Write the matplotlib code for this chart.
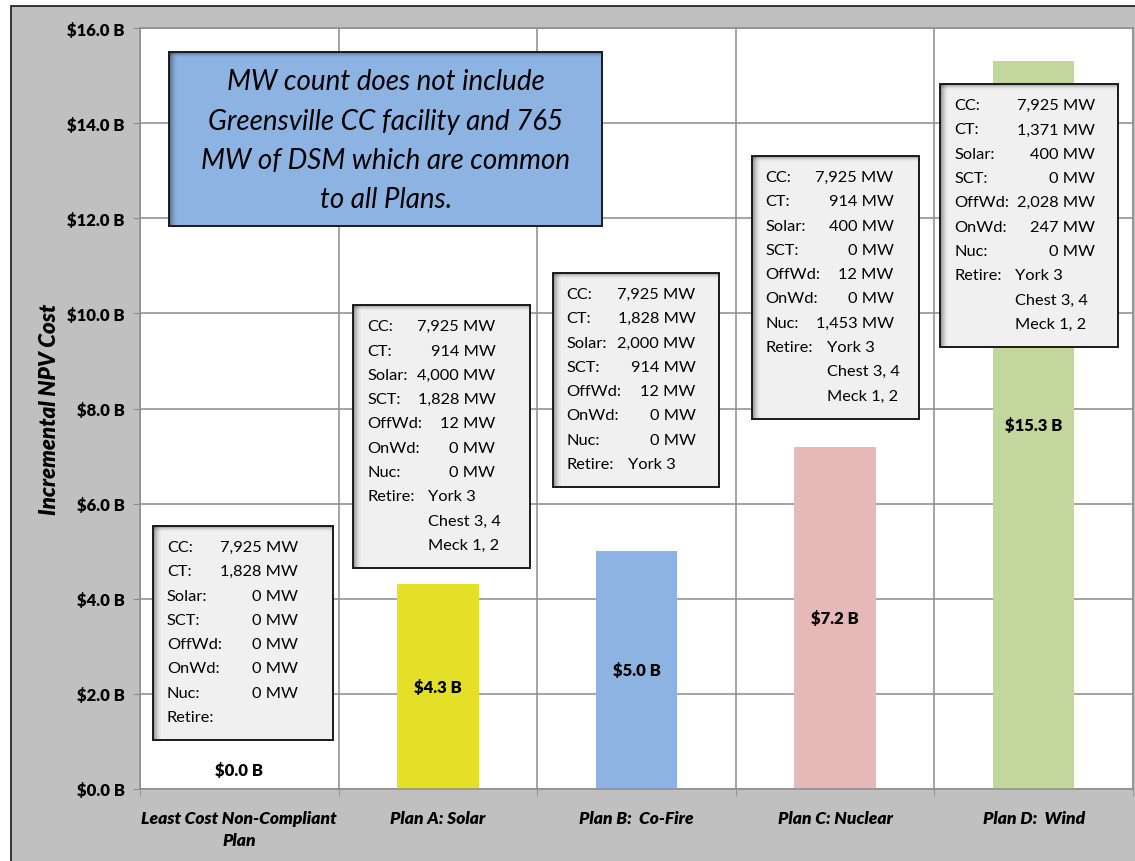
import matplotlib
matplotlib.use("Agg")
import matplotlib.pyplot as plt
from matplotlib.patches import Rectangle
from matplotlib.transforms import IdentityTransform

plt.rcParams['font.family'] = ['Lato', 'DejaVu Sans']

# --- data -------------------------------------------------------------
plans = ["Least Cost Non-Compliant\nPlan", "Plan A: Solar", "Plan B:  Co-Fire",
         "Plan C: Nuclear", "Plan D:  Wind"]
npv_cost = [0.0, 4.3, 5.0, 7.2, 15.3]          # $ billions
y_ticks = [0, 2, 4, 6, 8, 10, 12, 14, 16]

resources = ["CC:", "CT:", "Solar:", "SCT:", "OffWd:", "OnWd:", "Nuc:"]
mw_lcnc = ["7,925", "1,828", "0", "0", "0", "0", "0"]
mw_plan_a = ["7,925", "914", "4,000", "1,828", "12", "0", "0"]
mw_plan_b = ["7,925", "1,828", "2,000", "914", "12", "0", "0"]
mw_plan_c = ["7,925", "914", "400", "0", "12", "0", "1,453"]
mw_plan_d = ["7,925", "1,371", "400", "0", "2,028", "247", "0"]
retire_lcnc = []
retire_plan_a = ["York 3", "Chest 3, 4", "Meck 1, 2"]
retire_plan_b = ["York 3"]
retire_plan_c = ["York 3", "Chest 3, 4", "Meck 1, 2"]
retire_plan_d = ["York 3", "Chest 3, 4", "Meck 1, 2"]

note = ["MW count does not include", "Greensville CC facility and 765",
        "MW of DSM which are common", "to all Plans."]

# --- styling / layout -------------------------------------------------
bar_colors = ["#ffffff", "#e4e02a", "#8db3e2", "#e6b9b8", "#c3d69b"]
W, H = 1135, 862
# info box anchors: (left in category units, top in $B, width px, value right px)
box_layout = [(-0.435, 5.53, 180, 145),
              (0.575, 10.17, 177, 142),
              (1.578, 10.85, 166, 143),
              (2.580, 13.31, 167, 142),
              (3.530, 14.82, 178, 155)]
BOLD = "heavy"

fig = plt.figure(figsize=(W / 100, H / 100), dpi=100, facecolor="white")
fig.add_artist(Rectangle((11 / W, -0.5), 2, 0.5 + 1 - 7 / H, transform=fig.transFigure,
                         facecolor="#c0c0c0", edgecolor="#262626", lw=1.3, zorder=0))

ax = fig.add_axes([140 / W, 72 / H, 993 / W, 761 / H])
ax.set_facecolor("white")
x = list(range(len(plans)))
ax.bar(x, npv_cost, width=0.41, color=bar_colors, zorder=2)
ax.set_xlim(-0.5, 4.5)
ax.set_ylim(0, 16)

ax.set_yticks(y_ticks)
ax.set_yticklabels([f"\\${t:.1f} B" for t in y_ticks], fontsize=12, fontweight=BOLD)
ax.set_xticks(x)
ax.set_xticklabels(plans, fontsize=12.5, fontweight=BOLD, style="italic", linespacing=1.45)
ax.set_xticks([i - 0.5 for i in range(len(plans) + 1)], minor=True)
ax.tick_params(axis="x", which="major", length=0, pad=15)
ax.tick_params(axis="x", which="minor", length=5, color="#8c8c8c")
ax.tick_params(axis="y", length=5, color="#8c8c8c", pad=6)
ax.grid(axis="y", which="major", color="#8c8c8c", lw=1.1, zorder=1)
ax.grid(axis="x", which="minor", color="#8c8c8c", lw=1.1, zorder=1)
ax.set_axisbelow(True)
for s in ax.spines.values():
    s.set_color("#8c8c8c")
    s.set_linewidth(1.1)

ax.set_ylabel("Incremental NPV Cost", fontsize=16, fontweight=BOLD, style="italic")
ax.yaxis.set_label_coords(-0.081, 0.5)

for i, v in enumerate(npv_cost):
    ypos = v / 2 if v > 0 else 0.4
    ax.text(i, ypos, f"\\${v:.1f} B", ha="center", va="center",
            fontsize=12, fontweight=BOLD, zorder=3)

ident = IdentityTransform()


def shaded_box(left, top, w, h, face):
    # left/top in display pixels (origin bottom-left), inner shadow on left and top
    ax.add_patch(Rectangle((left, top - h), w, h, transform=ident, facecolor=face,
                           edgecolor="none", zorder=4))
    for k in range(9):
        a = 0.42 * (1 - k / 9) ** 2
        ax.add_patch(Rectangle((left + k, top - h), 1, h, transform=ident,
                               facecolor="black", alpha=a, edgecolor="none", zorder=4))
    for k in range(6):
        a = 0.35 * (1 - k / 6) ** 2
        ax.add_patch(Rectangle((left, top - k - 1), w, 1, transform=ident,
                               facecolor="black", alpha=a, edgecolor="none", zorder=4))
    ax.add_patch(Rectangle((left, top - h), w, h, transform=ident, facecolor="none",
                           edgecolor="#1a1a1a", lw=1.4, zorder=5))


fig.canvas.draw()
tr = ax.transData

# note box
nx, ny = tr.transform((-0.354, 15.49))
shaded_box(nx, ny, 433, 174, "#8db3e2")
for k, line in enumerate(note):
    ax.text(nx + 217, ny - 29 - k * 39.3, line, transform=ident, ha="center", va="center",
            fontsize=20, style="italic", zorder=6)

mw_all = [mw_lcnc, mw_plan_a, mw_plan_b, mw_plan_c, mw_plan_d]
retire_all = [retire_lcnc, retire_plan_a, retire_plan_b, retire_plan_c, retire_plan_d]
step = 24.3
for (bl, bt, bw, vr), mw, ret in zip(box_layout, mw_all, retire_all):
    px, py = tr.transform((bl, bt))
    n_lines = len(resources) + max(len(ret), 1)
    bh = 21 + (n_lines - 1) * step + 23
    shaded_box(px, py, bw, bh, "#f0f0f0")
    for k, (lab, val) in enumerate(zip(resources, mw)):
        yy = py - 21 - k * step
        ax.text(px + 14, yy, lab, transform=ident, ha="left", va="center", fontsize=11.8, zorder=6)
        ax.text(px + vr, yy, f"{val} MW", transform=ident, ha="right", va="center",
                fontsize=11.8, zorder=6)
    k0 = len(resources)
    ax.text(px + 14, py - 21 - k0 * step, "Retire:", transform=ident, ha="left", va="center",
            fontsize=11.8, zorder=6)
    for j, r in enumerate(ret):
        ax.text(px + 75, py - 21 - (k0 + j) * step, r, transform=ident, ha="left",
                va="center", fontsize=11.8, zorder=6)

fig.savefig("out.png", dpi=100)
